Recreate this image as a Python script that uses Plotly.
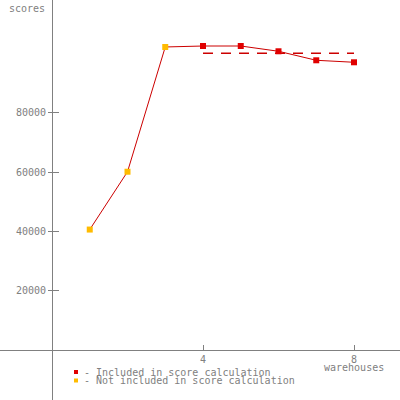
import plotly.graph_objects as go

warehouses = [1, 2, 3, 4, 5, 6, 7, 8]
scores = [40700, 60200, 102250, 102580, 102580, 100800, 97760, 97090]
included = [False, False, False, True, True, True, True, True]
score_value = 100160
score_range = [4, 8]
y_ticks = [20000, 40000, 60000, 80000]
x_ticks = [4, 8]

GRAY = "#808080"
FONT = "DejaVu Sans Mono"

inc_x = [w for w, i in zip(warehouses, included) if i]
inc_y = [s for s, i in zip(scores, included) if i]
exc_x = [w for w, i in zip(warehouses, included) if not i]
exc_y = [s for s, i in zip(scores, included) if not i]

fig = go.Figure()
fig.add_trace(go.Scatter(x=warehouses, y=scores, mode="lines",
                         line=dict(color="#cc0000", width=1), showlegend=False))
fig.add_trace(go.Scatter(x=score_range, y=[score_value, score_value], mode="lines",
                         line=dict(color="#cc0000", width=1.5, dash="10px,8px"), showlegend=False))
fig.add_trace(go.Scatter(x=inc_x, y=inc_y, mode="markers",
                         marker=dict(symbol="square", size=6, color="#e00000"), showlegend=False))
fig.add_trace(go.Scatter(x=exc_x, y=exc_y, mode="markers",
                         marker=dict(symbol="square", size=6, color="#ffbb00"), showlegend=False))
fig.add_trace(go.Scatter(x=[0], y=[0], yaxis="y2", mode="markers",
                         marker=dict(opacity=0), showlegend=False, hoverinfo="skip"))

xr = [-52 / 37.75, 348 / 37.75]
ypp = 20000 / 59.33
yr = [-49.7 * ypp, 350.3 * ypp]

fig.update_layout(
    width=400, height=400,
    margin=dict(l=0, r=0, t=0, b=0, autoexpand=False),
    paper_bgcolor="white", plot_bgcolor="white",
    font=dict(family=FONT, size=10, color=GRAY),
    xaxis=dict(range=xr, domain=[0, 1], anchor="free", position=49.7 / 400,
               showgrid=False, zeroline=False, showline=True, linecolor=GRAY, linewidth=1,
               tickvals=x_ticks, ticktext=[str(t) for t in x_ticks],
               ticks="inside", ticklen=5, tickcolor=GRAY, automargin=False,
               tickfont=dict(family=FONT, size=10, color=GRAY)),
    yaxis=dict(range=yr, domain=[0, 1], anchor="free", position=52 / 400,
               showgrid=False, zeroline=False, showline=True, linecolor=GRAY, linewidth=1,
               tickvals=y_ticks, ticktext=[str(t) for t in y_ticks],
               ticks="outside", ticklen=4, tickcolor=GRAY, automargin=False,
               tickfont=dict(family=FONT, size=10, color=GRAY)),
    yaxis2=dict(range=yr, overlaying="y", anchor="free", position=52 / 400,
                showgrid=False, zeroline=False, showline=False, automargin=False,
                tickvals=y_ticks, showticklabels=False,
                ticks="inside", ticklen=6, tickcolor=GRAY),
)

fig.add_annotation(x=47 / 400, y=1 - 1 / 400, xref="paper", yref="paper",
                   xanchor="right", yanchor="top", text="scores", showarrow=False,
                   font=dict(family=FONT, size=10, color=GRAY))
fig.add_annotation(x=8, y=-5900, xref="x", yref="y",
                   xanchor="center", yanchor="middle", text="warehouses", showarrow=False,
                   font=dict(family=FONT, size=10, color=GRAY))

legend_items = [("- Included in score calculation", "#e00000", 372),
                ("- Not included in score calculation", "#ffbb00", 380.5)]
for text, color, py in legend_items:
    yp = 1 - py / 400
    fig.add_shape(type="rect", xref="paper", yref="paper",
                  x0=74 / 400, x1=78 / 400, y0=yp - 2 / 400, y1=yp + 2 / 400,
                  fillcolor=color, line=dict(width=0))
    fig.add_annotation(x=82 / 400, y=yp, xref="paper", yref="paper",
                       xanchor="left", yanchor="middle", text=text, showarrow=False,
                       font=dict(family=FONT, size=10, color=GRAY))

fig.write_html("out.html", config={"displayModeBar": False},
               post_script="document.body.style.margin='0';document.body.style.overflow='hidden';")
